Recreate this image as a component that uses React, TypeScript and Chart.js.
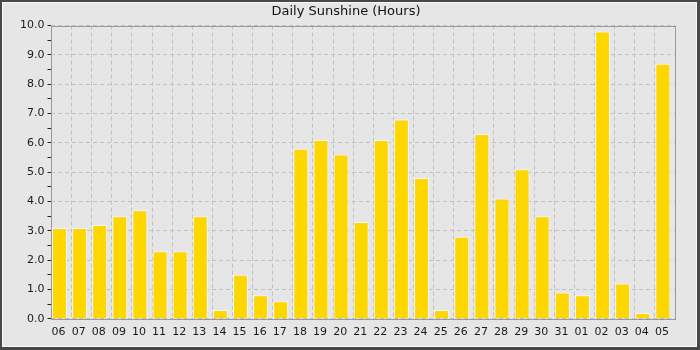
import React, { useEffect, useRef } from "react";
import { Chart, registerables } from "chart.js";

Chart.register(...registerables);

const title = "Daily Sunshine (Hours)";
const days = [
  "06", "07", "08", "09", "10", "11", "12", "13", "14", "15", "16", "17", "18", "19", "20", "21",
  "22", "23", "24", "25", "26", "27", "28", "29", "30", "31", "01", "02", "03", "04", "05",
];
const sunshineHours = [
  3.1, 3.1, 3.2, 3.5, 3.7, 2.3, 2.3, 3.5, 0.3, 1.5, 0.8, 0.6, 5.8, 6.1, 5.6, 3.3,
  6.1, 6.8, 4.8, 0.3, 2.8, 6.3, 4.1, 5.1, 3.5, 0.9, 0.8, 9.8, 1.2, 0.2, 8.7,
];
const yMin = 0;
const yMax = 10;
const yMajorStep = 1;
const yMinorStep = 0.5;

const FONT = "'DejaVu Sans', sans-serif";

const framePlugin = {
  id: "frame",
  beforeDraw(chart: any) {
    const { ctx, width, height } = chart;
    ctx.save();
    ctx.fillStyle = "#484848";
    ctx.fillRect(0, 0, width, height);
    ctx.fillStyle = "#fafafa";
    ctx.fillRect(2, 2, width - 5, height - 5);
    ctx.fillStyle = "#e6e6e6";
    ctx.fillRect(3, 3, width - 7, height - 7);
    ctx.restore();
  },
  beforeDatasetsDraw(chart: any) {
    const { ctx, chartArea } = chart;
    ctx.save();
    ctx.strokeStyle = "#999999";
    ctx.lineWidth = 1;
    ctx.strokeRect(
      Math.round(chartArea.left) + 0.5,
      Math.round(chartArea.top) + 0.5,
      Math.round(chartArea.right - chartArea.left),
      Math.round(chartArea.bottom - chartArea.top)
    );
    ctx.restore();
  },
};

export default function App() {
  const canvasRef = useRef<HTMLCanvasElement | null>(null);

  useEffect(() => {
    document.body.style.margin = "0";
    const canvas = canvasRef.current;
    if (!canvas) return;
    const chart = new Chart(canvas, {
      type: "bar",
      data: {
        labels: days,
        datasets: [
          {
            label: "Sunshine",
            data: sunshineHours,
            backgroundColor: "#ffd700",
            borderColor: "#f8f8ff",
            borderWidth: 1,
            barPercentage: 3.6,
            categoryPercentage: 0.413,
          },
          {
            label: "spacer",
            data: days.map(() => null),
            backgroundColor: "rgba(0,0,0,0)",
            barPercentage: 3.6,
            categoryPercentage: 0.413,
          },
        ],
      },
      options: {
        responsive: false,
        animation: false,
        devicePixelRatio: 1,
        layout: { padding: { left: 17, right: 25, top: 0, bottom: 4 } },
        plugins: {
          legend: { display: false },
          tooltip: { enabled: false },
          title: {
            display: true,
            text: title,
            color: "#111111",
            font: { family: FONT, size: 13, weight: "normal" },
            padding: { top: 4, bottom: 6 },
          },
        },
        scales: {
          x: {
            type: "category",
            offset: true,
            grid: {
              offset: true,
              color: "#c0c0c0",
              lineWidth: 1,
              drawTicks: false,
            },
            border: { display: false, dash: [4, 3] },
            ticks: {
              color: "#1a1a1a",
              font: { family: FONT, size: 11 },
              padding: 7,
              autoSkip: false,
              maxRotation: 0,
              labelOffset: -3,
            },
          },
          y: {
            min: yMin,
            max: yMax,
            grid: {
              color: (ctx: any) =>
                ctx.tick && Math.abs(ctx.tick.value % yMajorStep) < 1e-9 ? "#c0c0c0" : "rgba(0,0,0,0)",
              tickColor: "#222222",
              tickLength: 4,
              lineWidth: 1,
            },
            border: { display: false, dash: [4, 3] },
            ticks: {
              stepSize: yMinorStep,
              autoSkip: false,
              color: "#1a1a1a",
              font: { family: FONT, size: 11 },
              padding: 3,
              callback: (v: any) =>
                Math.abs(Number(v) % yMajorStep) < 1e-9 ? Number(v).toFixed(1) : "",
            },
          },
        },
      },
      plugins: [framePlugin],
    });
    return () => chart.destroy();
  }, []);

  return (
    <div style={{ width: 700, height: 350 }}>
      <canvas ref={canvasRef} width={700} height={350} style={{ display: "block" }} />
    </div>
  );
}
